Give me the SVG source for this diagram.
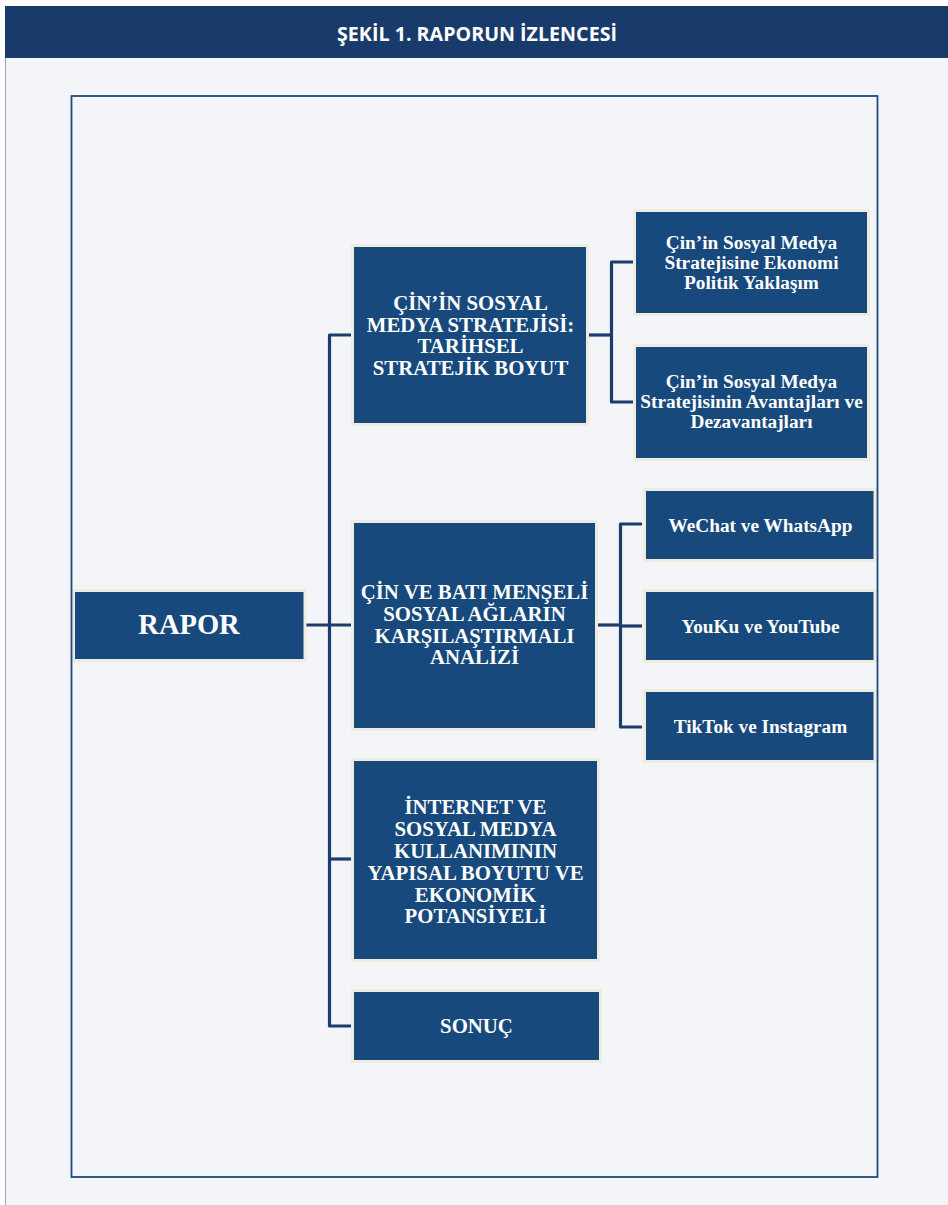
<svg xmlns="http://www.w3.org/2000/svg" width="948" height="1205" viewBox="0 0 948 1205">
<style>
.node rect.b{fill:#17497C;stroke:#EEEBE0;stroke-width:3}
.node text{fill:#FFFFFF;font-family:"Liberation Serif","Times New Roman",serif;font-weight:bold;text-anchor:middle}
.cap{font-size:20.8px}
.sm{font-size:19.3px}
.conn path{fill:none;stroke:#1B3D6E;stroke-width:3.2;stroke-linejoin:round;stroke-linecap:butt}
</style>
<rect x="0" y="0" width="948" height="1205" fill="#FFFFFF"/>
<rect x="5" y="6" width="943" height="1199" fill="#F3F5F9"/>
<line x1="5.5" y1="6" x2="5.5" y2="1205" stroke="#9AA6B8" stroke-width="1"/>
<g id="header">
<rect x="5" y="6" width="943" height="52" fill="#193B6C"/>
<text x="477" y="41" fill="#FFFFFF" font-family="'Open Sans','Noto Sans','Liberation Sans',sans-serif" font-weight="bold" font-size="19" text-anchor="middle" textLength="280" lengthAdjust="spacingAndGlyphs">ŞEKİL 1. RAPORUN İZLENCESİ</text>
</g>
<g class="conn" id="connectors">
<path d="M305 625 H353"/>
<path d="M353 335 H329.5 V1026 H353"/>
<path d="M329.5 859 H353"/>
<path d="M588 335 H611.5"/>
<path d="M633 262 H611.5 V402 H633"/>
<path d="M597 625 H620.5"/>
<path d="M642 524 H620.5 V727 H642"/>
<path d="M620.5 626 H642"/>
</g>
<g class="node" id="rapor">
<rect class="b" x="73.5" y="590.5" width="231.5" height="70"/>
<text x="189" y="634" font-size="28.5px">RAPOR</text>
</g>
<g class="node" id="tarihsel">
<rect class="b" x="352.5" y="245.5" width="235" height="179"/>
<text class="cap" x="470.5" y="310">ÇİN’İN SOSYAL</text>
<text class="cap" x="470.5" y="331.5">MEDYA STRATEJİSİ:</text>
<text class="cap" x="470.5" y="353">TARİHSEL</text>
<text class="cap" x="470.5" y="374.5">STRATEJİK BOYUT</text>
</g>
<g class="node" id="ekonomi-politik">
<rect class="b" x="634.5" y="210.5" width="234" height="104"/>
<text class="sm" x="751.5" y="249">Çin’in Sosyal Medya</text>
<text class="sm" x="751.5" y="269">Stratejisine Ekonomi</text>
<text class="sm" x="751.5" y="289">Politik Yaklaşım</text>
</g>
<g class="node" id="avantajlar">
<rect class="b" x="634.5" y="345.5" width="234" height="114"/>
<text class="sm" x="751.5" y="388">Çin’in Sosyal Medya</text>
<text class="sm" x="751.5" y="408">Stratejisinin Avantajları ve</text>
<text class="sm" x="751.5" y="428">Dezavantajları</text>
</g>
<g class="node" id="karsilastirma">
<rect class="b" x="352.5" y="521.5" width="244" height="208"/>
<text class="cap" x="474.5" y="599">ÇİN VE BATI MENŞELİ</text>
<text class="cap" x="474.5" y="621">SOSYAL AĞLARIN</text>
<text class="cap" x="474.5" y="643">KARŞILAŞTIRMALI</text>
<text class="cap" x="474.5" y="664">ANALİZİ</text>
</g>
<g class="node" id="wechat">
<rect class="b" x="644.5" y="489.5" width="230.5" height="71"/>
<text class="sm" x="760.5" y="532">WeChat ve WhatsApp</text>
</g>
<g class="node" id="youku">
<rect class="b" x="644.5" y="590.5" width="230.5" height="71"/>
<text class="sm" x="760.5" y="633">YouKu ve YouTube</text>
</g>
<g class="node" id="tiktok">
<rect class="b" x="644.5" y="690.5" width="230.5" height="71"/>
<text class="sm" x="760.5" y="733">TikTok ve Instagram</text>
</g>
<g class="node" id="internet">
<rect class="b" x="352.5" y="759.5" width="246" height="201"/>
<text class="cap" x="475.5" y="814">İNTERNET VE</text>
<text class="cap" x="475.5" y="836">SOSYAL MEDYA</text>
<text class="cap" x="475.5" y="858">KULLANIMININ</text>
<text class="cap" x="475.5" y="880">YAPISAL BOYUTU VE</text>
<text class="cap" x="475.5" y="902">EKONOMİK</text>
<text class="cap" x="475.5" y="923">POTANSİYELİ</text>
</g>
<g class="node" id="sonuc">
<rect class="b" x="352.5" y="990.5" width="248" height="71"/>
<text class="cap" x="476.5" y="1033">SONUÇ</text>
</g>
<rect id="frame" x="71.5" y="96" width="806" height="1081" fill="none" stroke="#1F4B80" stroke-width="1.8"/>
</svg>
